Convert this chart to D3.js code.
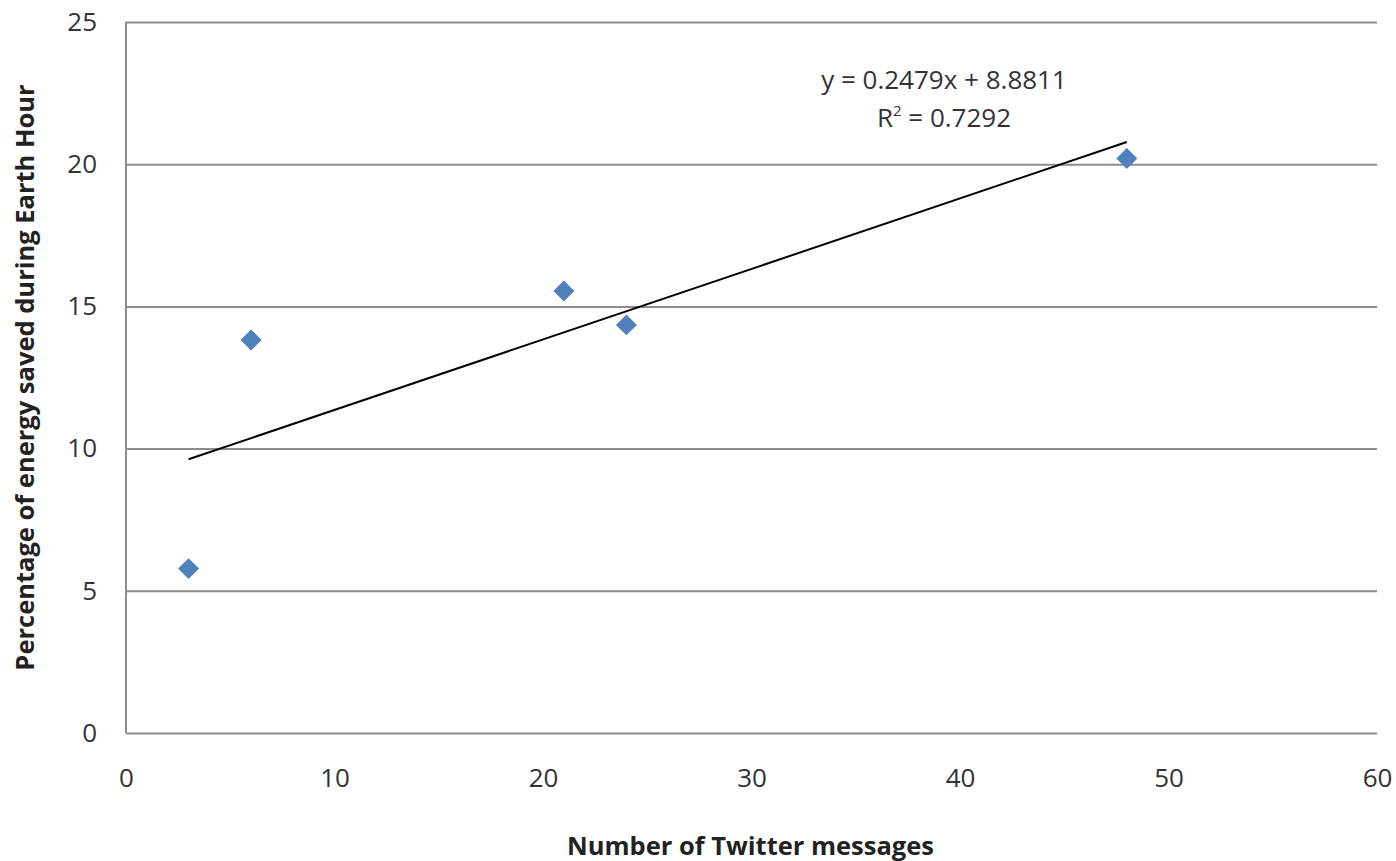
<!DOCTYPE html>
<html>
<head>
<meta charset="utf-8">
<script src="https://cdn.jsdelivr.net/npm/d3@7"></script>
<style>
  body { margin: 0; background: #fff; }
  svg { display: block; font-family: "Open Sans", "DejaVu Sans", sans-serif; }
</style>
</head>
<body>
<div class="chart"></div>
<script>
// data
var twitterMessages = [3, 6, 21, 24, 48];
var energySaved = [5.78, 13.82, 15.54, 14.35, 20.2];
var xTicks = [0, 10, 20, 30, 40, 50, 60];
var yTicks = [0, 5, 10, 15, 20, 25];
var trendSlope = 0.2479, trendIntercept = 8.8811, trendR2 = 0.7292;

var width = 1396, height = 861;
var margin = {top: 22, right: 19, bottom: 128, left: 126};

var svg = d3.select(".chart").append("svg")
    .attr("width", width)
    .attr("height", height);

var x = d3.scaleLinear().domain([0, 60]).range([margin.left, width - margin.right]);
var y = d3.scaleLinear().domain([0, 25]).range([height - margin.bottom, margin.top]);

// horizontal gridlines
svg.append("g")
    .attr("transform", "translate(" + margin.left + ",0)")
    .call(d3.axisLeft(y).tickValues(yTicks).tickSize(-(width - margin.right - margin.left)).tickFormat(""))
    .call(function(g) {
        g.select(".domain").remove();
        g.selectAll("line").attr("stroke", "#8c8c8c").attr("stroke-width", 2);
    });

// left axis line
svg.append("line")
    .attr("x1", x(0)).attr("x2", x(0))
    .attr("y1", y(0)).attr("y2", y(25))
    .attr("stroke", "#8c8c8c").attr("stroke-width", 2);

// y tick labels
svg.append("g")
    .attr("transform", "translate(" + (margin.left - 29) + ",0)")
    .call(d3.axisLeft(y).tickValues(yTicks).tickSize(0).tickPadding(0))
    .call(function(g) {
        g.select(".domain").remove();
        g.selectAll("text")
            .attr("font-size", 26)
            .attr("fill", "#333")
            .attr("font-family", "'Open Sans', sans-serif");
    });

// x tick labels
svg.append("g")
    .attr("transform", "translate(0," + (y(0) + 36) + ")")
    .call(d3.axisBottom(x).tickValues(xTicks).tickSize(0).tickPadding(0))
    .call(function(g) {
        g.select(".domain").remove();
        g.selectAll("text")
            .attr("font-size", 26)
            .attr("fill", "#333")
            .attr("font-family", "'Open Sans', sans-serif");
    });

// trendline
var tx0 = d3.min(twitterMessages), tx1 = d3.max(twitterMessages);
svg.append("line")
    .attr("x1", x(tx0)).attr("y1", y(trendSlope * tx0 + trendIntercept))
    .attr("x2", x(tx1)).attr("y2", y(trendSlope * tx1 + trendIntercept))
    .attr("stroke", "#000").attr("stroke-width", 2);

// points
var diamond = d3.symbol().type(d3.symbolSquare).size(220);
svg.selectAll(".pt")
    .data(twitterMessages)
    .enter().append("path")
    .attr("class", "pt")
    .attr("d", diamond)
    .attr("transform", function(d, i) {
        return "translate(" + x(d) + "," + y(energySaved[i]) + ") rotate(45)";
    })
    .attr("fill", "#4f81bd");

// equation
var eq = svg.append("g").attr("font-size", 26).attr("fill", "#333");
eq.append("text")
    .attr("x", 944).attr("y", 89)
    .attr("text-anchor", "middle")
    .text("y = " + trendSlope + "x + " + trendIntercept);
var r2 = eq.append("text")
    .attr("x", 944).attr("y", 127)
    .attr("text-anchor", "middle");
r2.append("tspan").text("R");
r2.append("tspan").attr("font-size", 15).attr("dy", -11).text("2");
r2.append("tspan").attr("dy", 11).text(" = " + trendR2);

// axis titles
svg.append("text")
    .attr("x", x(30) - 1).attr("y", 855)
    .attr("text-anchor", "middle")
    .attr("font-size", 25.5).attr("font-weight", "bold").attr("fill", "#222")
    .text("Number of Twitter messages");

svg.append("text")
    .attr("transform", "translate(34," + y(12.5) + ") rotate(-90)")
    .attr("text-anchor", "middle")
    .attr("font-size", 25.5).attr("font-weight", "bold").attr("fill", "#222")
    .text("Percentage of energy saved during Earth Hour");
</script>
</body>
</html>
